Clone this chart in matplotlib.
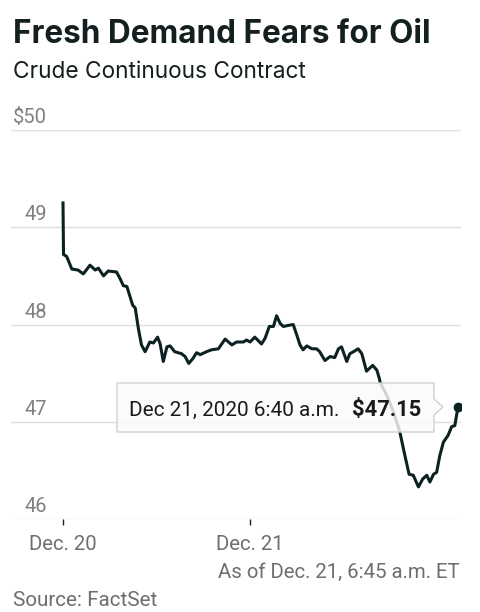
import matplotlib
matplotlib.use("Agg")
import matplotlib.pyplot as plt
import matplotlib.transforms as mtransforms
from matplotlib.patches import Polygon
import pandas as pd

# ---------------- data ----------------
session_open = "2020-12-20 18:00"
minutes_since_open = [0, 1, 7, 17, 29, 39, 52, 62, 68, 78, 87, 103, 110, 116, 123, 134, 139, 145,
                      151, 158, 167, 174, 182, 187, 193, 200, 206, 215, 228, 235, 242, 250, 257,
                      264, 276, 286, 299, 312, 325, 334, 347, 353, 360, 369, 382, 389, 397, 405,
                      411, 418, 424, 433, 443, 450, 456, 462, 469, 479, 488, 494, 504, 514, 523,
                      530, 536, 546, 552, 559, 568, 575, 584, 596, 604, 609, 610, 623, 636, 648,
                      658, 666, 674, 684, 692, 700, 706, 713, 719, 725, 732, 741, 748, 754, 760]
price = [49.25, 48.72, 48.70, 48.57, 48.56, 48.52, 48.61, 48.56, 48.58, 48.50, 48.55, 48.54, 48.47,
         48.40, 48.39, 48.20, 48.17, 47.96, 47.79, 47.72, 47.82, 47.81, 47.87, 47.80, 47.62, 47.77,
         47.78, 47.72, 47.70, 47.67, 47.60, 47.65, 47.71, 47.69, 47.72, 47.74, 47.75, 47.85, 47.79,
         47.82, 47.82, 47.84, 47.82, 47.87, 47.80, 47.86, 47.98, 47.98, 48.09, 48.01, 47.98, 47.99,
         48.00, 47.89, 47.79, 47.74, 47.78, 47.75, 47.75, 47.72, 47.63, 47.67, 47.66, 47.75, 47.77,
         47.62, 47.70, 47.72, 47.75, 47.70, 47.52, 47.58, 47.53, 47.44, 47.41, 47.27, 47.10, 46.90,
         46.65, 46.46, 46.45, 46.33, 46.41, 46.45, 46.38, 46.46, 46.48, 46.65, 46.79, 46.86, 46.95,
         46.96, 47.15]
y_ticks = [46, 47, 48, 49, 50]
y_tick_labels = ["46", "47", "48", "49", "$50"]
x_ticks = ["2020-12-20 18:00", "2020-12-21 00:00"]
x_tick_labels = ["Dec. 20", "Dec. 21"]
title = "Fresh Demand Fears for Oil"
subtitle = "Crude Continuous Contract"
tooltip_date = "Dec 21, 2020 6:40 a.m."
tooltip_value = "$47.15"
asof = "As of Dec. 21, 6:45 a.m. ET"
source = "Source: FactSet"

# ---------------- figure ----------------
W, H = 481, 612
fig = plt.figure(figsize=(W / 100, H / 100), dpi=100)
fig.patch.set_facecolor("white")
FONT = "Roboto"
TFONT = "Inter"
DARK = "#13201f"
GRAY = "#808080"
GRAY2 = "#6e6e6e"


def fx(x):
    return x / W


def fy(y):
    return 1 - y / H


ax_left, ax_right, ax_top, ax_bottom = 11, 461, 130, 519
ax = fig.add_axes([fx(ax_left), fy(ax_bottom), (ax_right - ax_left) / W, (ax_bottom - ax_top) / H])
ax.set_facecolor("none")

t0 = pd.Timestamp(session_open)
times = t0 + pd.to_timedelta(minutes_since_open, unit="m")
ax.plot(times, price, color="#0c2122", lw=2.2, solid_joinstyle="round", zorder=3)
ax.plot(times[-1:], price[-1:], "o", color="#0c2122", ms=6, zorder=4)

px_per_hour = 31.18
ax.set_xlim(t0 - pd.Timedelta(hours=(63 - ax_left) / px_per_hour),
            t0 + pd.Timedelta(hours=(ax_right - 63) / px_per_hour))
ax.set_ylim(46, 50)

for s in ax.spines.values():
    s.set_visible(False)
ax.set_yticks(y_ticks)
ax.set_yticklabels([])
ax.tick_params(axis="y", length=0)
ax.grid(axis="y", color="#dedede", lw=1)
ax.set_axisbelow(True)

xt = pd.to_datetime(x_ticks)
ax.set_xticks(xt)
ax.set_xticklabels(x_tick_labels, fontfamily=FONT, color=GRAY2, fontsize=12.5)
ax.tick_params(axis="x", direction="out", length=4.5, width=1, color="#222222", pad=7)

renderer = fig.canvas.get_renderer()


def fit(t, target):
    w = t.get_window_extent(renderer).width
    t.set_fontsize(t.get_fontsize() * target / w)


# y tick labels, above gridlines, right-aligned
trans = mtransforms.blended_transform_factory(fig.transFigure, ax.transData) + \
    mtransforms.ScaledTranslation(0, 7 / 100, fig.dpi_scale_trans)
for v, lab in zip(y_ticks, y_tick_labels):
    t = ax.text(fx(47), v, lab, transform=trans, ha="right", va="baseline",
                fontfamily=FONT, color=GRAY, fontsize=14, clip_on=False)
    if lab == "$50":
        fit(t, 34)
        ysize = t.get_fontsize()
for t in ax.texts:
    t.set_fontsize(ysize)

# titles
tt = fig.text(fx(13), fy(43), title, fontfamily=TFONT, fontweight="bold", color=DARK,
              fontsize=22, ha="left", va="baseline")
fit(tt, 417)
st = fig.text(fx(13), fy(78), subtitle, fontfamily=TFONT, color=DARK, fontsize=15,
              ha="left", va="baseline")
fit(st, 294)

# footer
at = fig.text(fx(460), fy(578), asof, fontfamily=FONT, color=GRAY2, fontsize=12.5,
              ha="right", va="baseline")
fit(at, 243)
so = fig.text(fx(13), fy(606), source, fontfamily=FONT, color=GRAY2, fontsize=12.5,
              ha="left", va="baseline")
fit(so, 144)
for lab in ax.get_xticklabels():
    lab.set_fontsize(at.get_fontsize())

# tooltip box with pointer
bx0, bx1, by0, by1 = 117, 434, 383, 432
tipx, tipy = 443, 407
pts = [(bx0, by0), (bx1, by0), (bx1, tipy - 8), (tipx, tipy), (bx1, tipy + 8), (bx1, by1), (bx0, by1)]
poly = Polygon([(fx(x), fy(y)) for x, y in pts], closed=True, transform=fig.transFigure,
               facecolor="#fbfbfb", alpha=0.82, edgecolor="none", zorder=5)
fig.patches.append(poly)
poly2 = Polygon([(fx(x), fy(y)) for x, y in pts], closed=True, transform=fig.transFigure,
                facecolor="none", edgecolor="#d0d0d0", lw=1, zorder=6)
fig.patches.append(poly2)
d1 = fig.text(fx(129), fy(416), tooltip_date, fontfamily=FONT, color="#1a1a1a", fontsize=13,
              ha="left", va="baseline", zorder=7)
fit(d1, 211)
d2 = fig.text(fx(421), fy(416), tooltip_value, fontfamily=FONT, fontweight="bold", color="#1a1a1a",
              fontsize=d1.get_fontsize(), ha="right", va="baseline", zorder=7)
fit(d2, 69)

fig.savefig("out.png", dpi=100, facecolor="white")
